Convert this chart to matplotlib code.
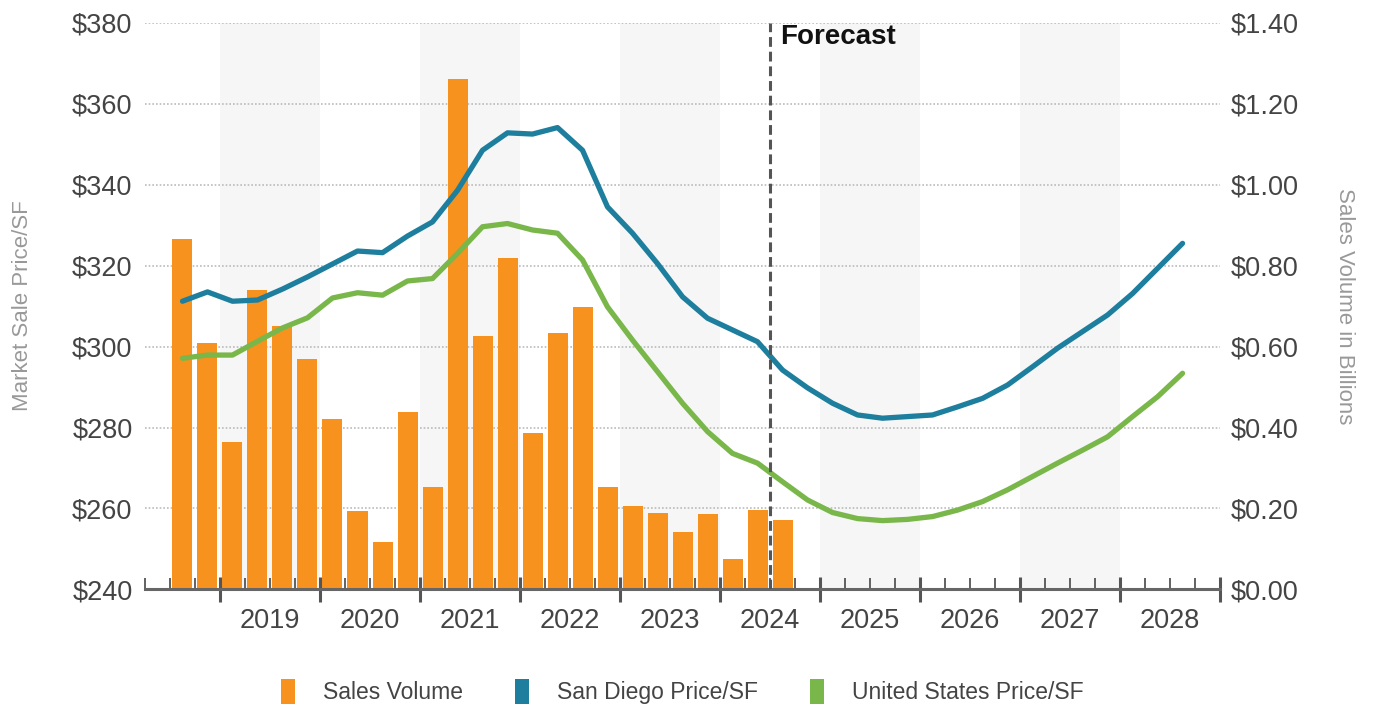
import matplotlib
matplotlib.use("Agg")
import matplotlib.pyplot as plt
from matplotlib.patches import Patch
from matplotlib.ticker import FixedLocator

plt.rcParams['font.family'] = ['Liberation Sans', 'DejaVu Sans']

# ---------------- data ----------------
bar_quarters = ["2018Q3", "2018Q4",
                "2019Q1", "2019Q2", "2019Q3", "2019Q4",
                "2020Q1", "2020Q2", "2020Q3", "2020Q4",
                "2021Q1", "2021Q2", "2021Q3", "2021Q4",
                "2022Q1", "2022Q2", "2022Q3", "2022Q4",
                "2023Q1", "2023Q2", "2023Q3", "2023Q4",
                "2024Q1", "2024Q2", "2024Q3"]
sales_volume = [0.865, 0.61, 0.365, 0.74, 0.65, 0.57, 0.42, 0.194, 0.118, 0.438,
                0.254, 1.262, 0.626, 0.82, 0.387, 0.634, 0.698, 0.252, 0.207, 0.19,
                0.142, 0.186, 0.075, 0.195, 0.172]

line_quarters = bar_quarters[:-1] + ["2024Q3", "2024Q4",
                 "2025Q1", "2025Q2", "2025Q3", "2025Q4",
                 "2026Q1", "2026Q2", "2026Q3", "2026Q4",
                 "2027Q1", "2027Q2", "2027Q3", "2027Q4",
                 "2028Q1", "2028Q2", "2028Q3"]
san_diego_price = [311.2, 313.5,
                   311.2, 311.5, 314.2, 317.2,
                   320.4, 323.6, 323.2, 327.3,
                   330.8, 338.6, 348.5, 352.8,
                   352.5, 354.1, 348.5, 334.5,
                   328.0, 320.5, 312.3, 307.0,
                   304.1, 301.2, 294.2, 289.8,
                   286.0, 283.1, 282.3, 282.7,
                   283.1, 285.1, 287.2, 290.5,
                   295.0, 299.6, 303.7, 307.8,
                   313.1, 319.3, 325.5]
us_price = [297.1, 297.9,
            297.9, 301.3, 304.6, 307.1,
            312.0, 313.3, 312.7, 316.2,
            316.8, 323.0, 329.6, 330.4,
            328.8, 328.0, 321.4, 309.8,
            301.6, 293.8, 286.0, 279.0,
            273.6, 271.2, 266.6, 262.1,
            259.0, 257.5, 257.0, 257.3,
            258.0, 259.6, 261.7, 264.6,
            267.9, 271.2, 274.4, 277.7,
            282.7, 287.6, 293.4]

years = [2019, 2020, 2021, 2022, 2023, 2024, 2025, 2026, 2027, 2028]
shaded_years = [2019, 2021, 2023, 2025, 2027]
forecast_start = "2024Q3"
left_ticks = [240, 260, 280, 300, 320, 340, 360, 380]
right_ticks = [0.0, 0.2, 0.4, 0.6, 0.8, 1.0, 1.2, 1.4]


def qpos(q):
    y, n = q.split("Q")
    return int(y) + (int(n) - 0.5) / 4.0


def qstart(q):
    y, n = q.split("Q")
    return int(y) + (int(n) - 1) / 4.0


bx = [qpos(q) for q in bar_quarters]
lx = [qpos(q) for q in line_quarters]

ORANGE = "#F7921E"
BLUE = "#1D7E9E"
GREEN = "#79B74A"
TXT = "#444444"

fig = plt.figure(figsize=(13.73, 7.11), dpi=100)
rect = [0.1056, 0.171, 0.7830, 0.797]
ax2 = fig.add_axes(rect)                 # bars / right axis (behind)
axL = fig.add_axes(rect, sharex=ax2)     # price lines / left axis (front)
axL.set_zorder(ax2.get_zorder() + 2)
axL.patch.set_visible(False)

xmin, xmax = 2018.25, 2029.0
ax2.set_xlim(xmin, xmax)

# shaded bands
for y in shaded_years:
    ax2.axvspan(y, y + 1, color="#F6F6F6", zorder=0, lw=0)

# bars (right axis scale)
ax2.bar(bx, sales_volume, width=0.2, color=ORANGE, zorder=3, linewidth=0)
ax2.set_ylim(0, 1.4)
ax2.yaxis.tick_right()
ax2.yaxis.set_label_position("right")
ax2.set_yticks(right_ticks)
ax2.set_yticklabels([f"${v:.2f}" for v in right_ticks])
for v in right_ticks[1:]:
    ax2.axhline(v, color="#BBBBBB", lw=1.2, ls=(0, (1, 1.2)), zorder=1)
ax2.tick_params(axis="y", length=0, pad=8, labelsize=19.5, labelcolor=TXT)
ax2.set_ylabel("Sales Volume in Billions", rotation=-90, color="#999999",
               fontsize=16, labelpad=40)
for s in ax2.spines.values():
    s.set_visible(False)
ax2.tick_params(axis="x", which="both", length=0, labelbottom=False)

# price lines (left axis)
axL.set_ylim(240, 380)
axL.plot(lx, san_diego_price, color=BLUE, lw=3.8, zorder=5, solid_capstyle="round")
axL.plot(lx, us_price, color=GREEN, lw=3.8, zorder=5, solid_capstyle="round")
axL.set_yticks(left_ticks)
axL.set_yticklabels([f"${v}" for v in left_ticks])
axL.tick_params(axis="y", length=0, pad=9, labelsize=19.5, labelcolor=TXT)
axL.set_ylabel("Market Sale Price/SF", color="#999999", fontsize=16, labelpad=28)

for k in ["top", "right", "left"]:
    axL.spines[k].set_visible(False)
axL.spines["bottom"].set_color("#666666")
axL.spines["bottom"].set_linewidth(2.2)

# x ticks
major = [2019 + i for i in range(11)]
minor = [xmin + 0.25 * i for i in range(44) if abs((xmin + 0.25 * i) % 1) > 1e-9]
axL.xaxis.set_major_locator(FixedLocator(major))
axL.xaxis.set_minor_locator(FixedLocator(minor))
axL.set_xticklabels([])
axL.tick_params(axis="x", which="major", direction="inout", length=18, width=2.2,
                color="#555555")
axL.tick_params(axis="x", which="minor", direction="in", length=8, width=1.3,
                color="#555555")
axL.set_xlim(xmin, xmax)
for y in years:
    axL.text(y + 0.5, -0.033, str(y), transform=axL.get_xaxis_transform(),
             ha="center", va="top", fontsize=19.5, color=TXT)

# forecast line
fx = qstart(forecast_start)
axL.axvline(fx, color="#555555", lw=2.2, ls=(0, (3.2, 1.6)), zorder=6)
axL.text(fx + 0.1, 0.997, "Forecast", transform=axL.get_xaxis_transform(),
         ha="left", va="top", fontsize=20, fontweight="bold", color="#111111")

# legend
handles = [Patch(facecolor=ORANGE, label="Sales Volume"),
           Patch(facecolor=BLUE, label="San Diego Price/SF"),
           Patch(facecolor=GREEN, label="United States Price/SF")]
fig.legend(handles=handles, loc="center", bbox_to_anchor=(0.497, 0.027), ncol=3,
           frameon=False, fontsize=16.5, handlelength=0.6, handleheight=1.3,
           handletextpad=1.2, columnspacing=2.3, labelcolor=TXT)

fig.savefig("out.png", dpi=100, facecolor="white")
